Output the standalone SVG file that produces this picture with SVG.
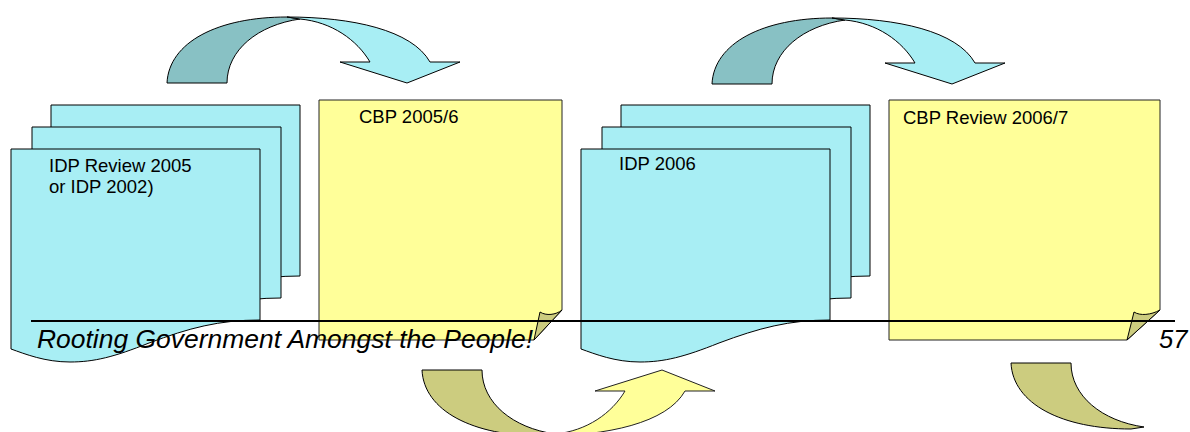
<svg xmlns="http://www.w3.org/2000/svg" xmlns:xlink="http://www.w3.org/1999/xlink" width="1190" height="432" viewBox="0 0 1190 432">
<style>
.blue{fill:#A8EEF4;stroke:#000;stroke-width:1}
.teal{fill:#88C1C4;stroke:#000;stroke-width:1}
.yel{fill:#FFFF99;stroke:#222;stroke-width:1}
.olive{fill:#CCCC7F;stroke:#000;stroke-width:1}
.lbl{font-family:"Liberation Sans",Arial,sans-serif;font-size:18.5px;fill:#000}
.foot{font-family:"Liberation Sans",Arial,sans-serif;font-style:italic;font-size:25.5px;fill:#000}
</style>
<defs>
<path id="sheet" d="M0,0 H249 V171 C208,171 178,179 138,194 C103,208 83,213 59,213 C34,213 14,205 0,200 Z"/>
<path id="arcBack" d="M167,83 C169,42 218,17 287,17 L300,19 C258,25 227,50 227,83 Z"/>
<path id="arcFront" d="M287,17 C352,17 412,30 430,62 L460,62 L407,83 L340,62 L370,62 C357,40 332,22 300,19 Z"/>
</defs>
<g id="connectors">
<g id="arrow-top-1"><use xlink:href="#arcBack" class="teal"/><use xlink:href="#arcFront" class="blue"/></g>
<g id="arrow-top-2" transform="translate(545,1)"><use xlink:href="#arcBack" class="teal"/><use xlink:href="#arcFront" class="blue"/></g>
<g id="arrow-bottom-1" transform="translate(255,453) scale(1,-1)"><use xlink:href="#arcBack" class="olive"/><use xlink:href="#arcFront" class="yel"/></g>
<g id="arrow-bottom-2" transform="translate(844,446) scale(1,-1)"><use xlink:href="#arcBack" class="olive"/></g>
</g>
<g id="idp-review-2005">
<use xlink:href="#sheet" class="blue" transform="translate(51,105)"/>
<use xlink:href="#sheet" class="blue" transform="translate(32,127)"/>
<use xlink:href="#sheet" class="blue" transform="translate(11,149)"/>
<text class="lbl" x="49" y="172">IDP Review 2005</text>
<text class="lbl" x="49" y="193">or IDP 2002)</text>
</g>
<g id="cbp-2005-6">
<path class="yel" d="M319,100 H562 V310 L534,340 H319 Z"/>
<path class="olive" d="M534,340 L540,312 C546,316 556,315 562,310 Z"/>
<text class="lbl" x="359" y="123">CBP 2005/6</text>
</g>
<g id="idp-2006">
<use xlink:href="#sheet" class="blue" transform="translate(621,105)"/>
<use xlink:href="#sheet" class="blue" transform="translate(602,127)"/>
<use xlink:href="#sheet" class="blue" transform="translate(581,149)"/>
<text class="lbl" x="619" y="170">IDP 2006</text>
</g>
<g id="cbp-review-2006-7">
<path class="yel" d="M889,100 H1160 V310 L1127,340 H889 Z"/>
<path class="olive" d="M1127,340 L1134,312 C1140,316 1151,315 1160,310 Z"/>
<text class="lbl" x="903" y="124">CBP Review 2006/7</text>
</g>
<g id="footer">
<path d="M31,321 H1175" stroke="#000" stroke-width="2" fill="none"/>
<text class="foot" x="37" y="348" textLength="496" lengthAdjust="spacingAndGlyphs">Rooting Government Amongst the People!</text>
<text class="foot" x="1159" y="348">57</text>
</g>
</svg>
